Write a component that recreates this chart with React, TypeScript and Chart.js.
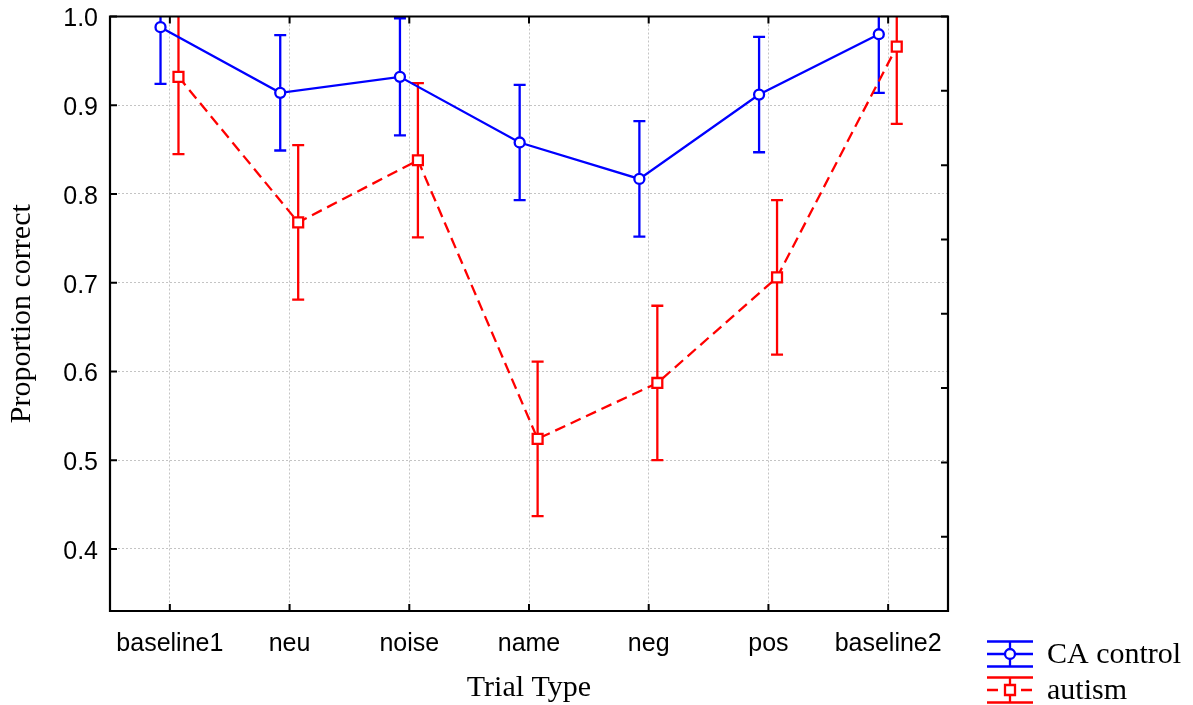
import React, { useEffect, useRef } from 'react';
import { Chart, registerables } from 'chart.js';

Chart.register(...registerables);

// ---- data ----
const CATEGORIES = ['baseline1', 'neu', 'noise', 'name', 'neg', 'pos', 'baseline2'];
const SERIES_NAMES = ['CA control', 'autism'];
const CA_MEAN = [0.988, 0.914, 0.932, 0.858, 0.817, 0.912, 0.98];
const CA_ERR = [0.064, 0.065, 0.066, 0.065, 0.065, 0.065, 0.066];
const AUT_MEAN = [0.932, 0.768, 0.838, 0.524, 0.587, 0.706, 0.966];
const AUT_ERR = [0.087, 0.087, 0.087, 0.087, 0.087, 0.087, 0.087];
const Y_TICKS = [0.4, 0.5, 0.6, 0.7, 0.8, 0.9, 1.0];
const Y_MIN = 0.33;
const Y_MAX = 1.0;
const RIGHT_DIVISIONS = 8;

// ---- style ----
const BLUE = '#0000ff';
const RED = '#ff0000';
const DODGE = [-0.078, 0.072];
const CAP = 6;
const LW = 2.3;
const DASH = [11, 6];
const SANS = 'Liberation Sans, Arial, sans-serif';
const SERIF = 'Liberation Serif, Times New Roman, serif';

const errorBarPlugin = {
  id: 'errorBars',
  beforeDatasetsDraw(chart: any) {
    const { ctx, chartArea } = chart;
    const y = chart.scales.y;
    ctx.save();
    ctx.beginPath();
    ctx.rect(chartArea.left, chartArea.top, chartArea.right - chartArea.left, chartArea.bottom - chartArea.top);
    ctx.clip();
    chart.data.datasets.forEach((ds: any, di: number) => {
      const meta = chart.getDatasetMeta(di);
      meta.data.forEach((pt: any, i: number) => {
        const m = ds.data[i].y;
        const e = ds.errors[i];
        const yt = y.getPixelForValue(m + e);
        const yb = y.getPixelForValue(m - e);
        ctx.strokeStyle = ds.borderColor;
        ctx.lineWidth = LW;
        ctx.setLineDash([]);
        ctx.beginPath();
        ctx.moveTo(pt.x, yt);
        ctx.lineTo(pt.x, yb);
        ctx.moveTo(pt.x - CAP, yt);
        ctx.lineTo(pt.x + CAP, yt);
        ctx.moveTo(pt.x - CAP, yb);
        ctx.lineTo(pt.x + CAP, yb);
        ctx.stroke();
      });
    });
    ctx.restore();
  },
};

const framePlugin = {
  id: 'frame',
  afterDraw(chart: any) {
    const { ctx, chartArea } = chart;
    const { left, right, top, bottom } = chartArea;
    const x = chart.scales.x;
    const y = chart.scales.y;
    const y2 = chart.scales.y2;
    ctx.save();
    ctx.strokeStyle = '#000';
    ctx.lineWidth = 2.2;
    ctx.setLineDash([]);
    ctx.beginPath();
    ctx.rect(left, top, right - left, bottom - top);
    ctx.stroke();
    const TL = 7;
    ctx.lineWidth = 2;
    ctx.beginPath();
    Y_TICKS.forEach((v) => {
      const py = y.getPixelForValue(v);
      ctx.moveTo(left, py);
      ctx.lineTo(left + TL, py);
    });
    CATEGORIES.forEach((_, i) => {
      const px = x.getPixelForValue(i);
      ctx.moveTo(px, bottom);
      ctx.lineTo(px, bottom - TL);
      ctx.moveTo(px, top);
      ctx.lineTo(px, top + TL);
    });
    for (let k = 0; k <= RIGHT_DIVISIONS; k++) {
      const py = y2.getPixelForValue(k);
      ctx.moveTo(right, py);
      ctx.lineTo(right - TL, py);
    }
    ctx.stroke();
    ctx.restore();
  },
};

const legendPlugin = {
  id: 'customLegend',
  afterDraw(chart: any) {
    const { ctx, chartArea } = chart;
    const cx = chartArea.right + 62;
    const rowsY = [chartArea.bottom + 43, chartArea.bottom + 79];
    const HW = 23;
    const HH = 12.5;
    chart.data.datasets.forEach((ds: any, di: number) => {
      const cy = rowsY[di];
      ctx.save();
      ctx.strokeStyle = ds.borderColor;
      ctx.lineWidth = LW;
      ctx.setLineDash([]);
      ctx.beginPath();
      ctx.moveTo(cx - HW, cy - HH);
      ctx.lineTo(cx + HW, cy - HH);
      ctx.moveTo(cx - HW, cy + HH);
      ctx.lineTo(cx + HW, cy + HH);
      ctx.moveTo(cx, cy - HH);
      ctx.lineTo(cx, cy + HH);
      ctx.stroke();
      ctx.setLineDash(ds.borderDash || []);
      ctx.beginPath();
      ctx.moveTo(cx - HW, cy);
      ctx.lineTo(cx + HW, cy);
      ctx.stroke();
      ctx.setLineDash([]);
      ctx.fillStyle = '#fff';
      ctx.beginPath();
      if (ds.pointStyle === 'rect') {
        ctx.rect(cx - 5, cy - 5, 10, 10);
      } else {
        ctx.arc(cx, cy, 5, 0, Math.PI * 2);
      }
      ctx.fill();
      ctx.stroke();
      ctx.fillStyle = '#000';
      ctx.font = `30px ${SERIF}`;
      ctx.textAlign = 'left';
      ctx.textBaseline = 'middle';
      ctx.fillText(ds.label, cx + 37, cy + 1);
      ctx.restore();
    });
  },
};

export default function App() {
  const ref = useRef<HTMLCanvasElement>(null);

  useEffect(() => {
    if (!ref.current) return;
    const chart = new Chart(ref.current, {
      type: 'line',
      data: {
        datasets: [
          {
            label: SERIES_NAMES[0],
            data: CA_MEAN.map((v, i) => ({ x: i + DODGE[0], y: v })),
            errors: CA_ERR,
            borderColor: BLUE,
            borderWidth: LW,
            pointStyle: 'circle',
            pointRadius: 5,
            pointBorderWidth: LW,
            pointBackgroundColor: '#ffffff',
            pointBorderColor: BLUE,
            tension: 0,
            fill: false,
          } as any,
          {
            label: SERIES_NAMES[1],
            data: AUT_MEAN.map((v, i) => ({ x: i + DODGE[1], y: v })),
            errors: AUT_ERR,
            borderColor: RED,
            borderWidth: LW,
            borderDash: DASH,
            pointStyle: 'rect',
            pointRadius: 7,
            pointBorderWidth: LW,
            pointBackgroundColor: '#ffffff',
            pointBorderColor: RED,
            tension: 0,
            fill: false,
          } as any,
        ],
      },
      options: {
        responsive: false,
        animation: false,
        layout: { padding: { left: 0, top: 16.5, right: 245, bottom: 0 } },
        plugins: {
          legend: { display: false },
          tooltip: { enabled: false },
        },
        scales: {
          x: {
            type: 'linear',
            position: 'bottom',
            min: -0.5,
            max: CATEGORIES.length - 0.5,
            afterBuildTicks: (s: any) => {
              s.ticks = CATEGORIES.map((_, i) => ({ value: i }));
            },
            afterFit: (s: any) => {
              s.height = 94;
              s.paddingLeft = 0;
              s.paddingRight = 0;
              s.paddingTop = 0;
              s.paddingBottom = 0;
            },
            ticks: {
              callback: (_v: any, idx: number) => CATEGORIES[idx],
              font: { family: SANS, size: 25 },
              color: '#000',
              padding: 18,
              maxRotation: 0,
              autoSkip: false,
            },
            grid: { color: '#c4c4c4', lineWidth: 1, drawTicks: false },
            border: { display: false, dash: [2, 2] },
            title: {
              display: true,
              text: 'Trial Type',
              font: { family: SERIF, size: 30, lineHeight: 1.2 },
              color: '#000',
              padding: { top: 0, bottom: -1 },
            },
          },
          y: {
            type: 'linear',
            position: 'left',
            min: Y_MIN,
            max: Y_MAX,
            afterBuildTicks: (s: any) => {
              s.ticks = Y_TICKS.map((v) => ({ value: v }));
            },
            afterFit: (s: any) => {
              s.width = 110;
              s.paddingLeft = 0;
              s.paddingRight = 0;
              s.paddingTop = 0;
              s.paddingBottom = 0;
            },
            ticks: {
              callback: (v: any) => Number(v).toFixed(1),
              font: { family: SANS, size: 25 },
              color: '#000',
              padding: 12,
              labelOffset: 3,
            },
            grid: { color: '#c4c4c4', lineWidth: 1, drawTicks: false },
            border: { display: false, dash: [2, 2] },
            title: {
              display: true,
              text: 'Proportion correct',
              font: { family: SERIF, size: 30, lineHeight: 1.2 },
              color: '#000',
              padding: { top: 4, bottom: 0 },
            },
          },
          y2: {
            type: 'linear',
            position: 'right',
            display: false,
            min: 0,
            max: RIGHT_DIVISIONS,
          },
        },
      } as any,
      plugins: [errorBarPlugin, framePlugin, legendPlugin],
    });
    return () => chart.destroy();
  }, []);

  return (
    <div style={{ position: 'absolute', left: 0, top: 0, width: 1193, height: 705, background: '#fff' }}>
      <canvas ref={ref} width={1193} height={705} />
    </div>
  );
}
